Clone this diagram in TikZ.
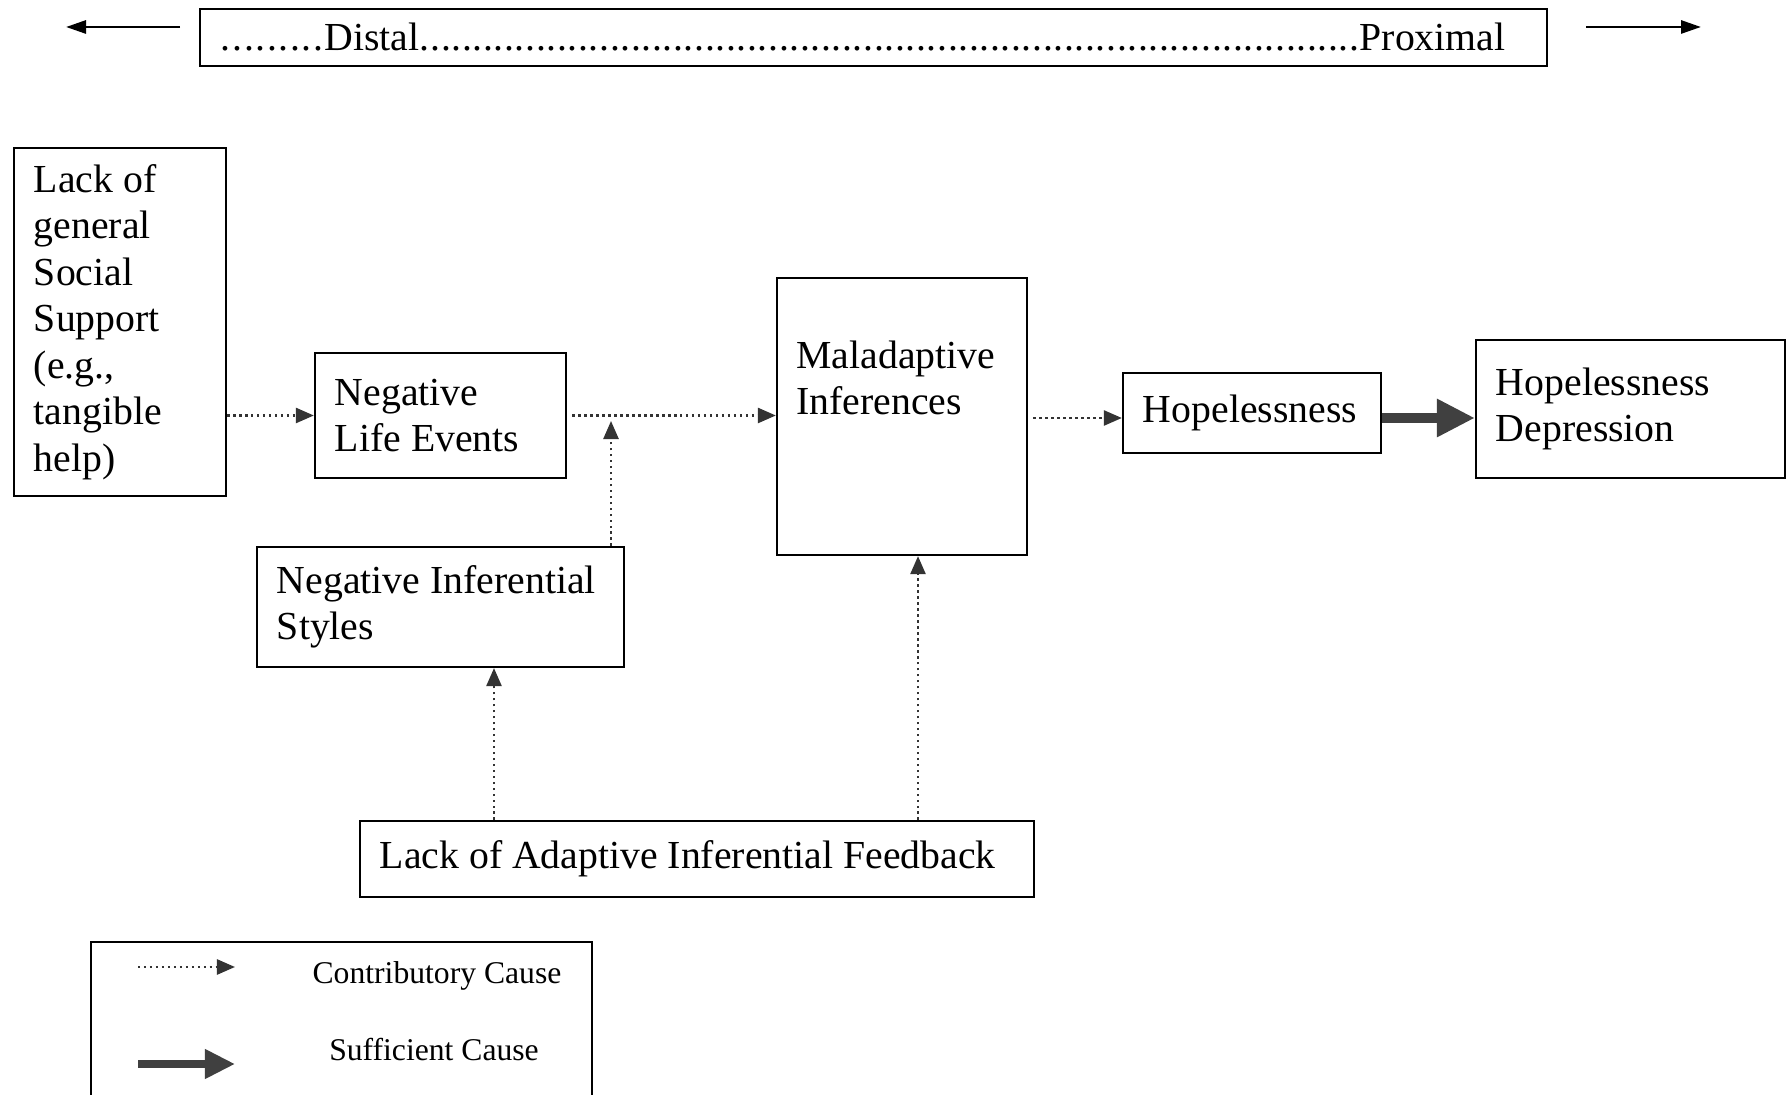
\documentclass[tikz,border=0pt]{standalone}
\usepackage{fontspec}
\setmainfont{Liberation Serif}
\usetikzlibrary{arrows.meta}
\newcommand{\dotrow}{\xleaders\hbox to 3pt{\hss.\hss}\hfill}

\begin{document}
\begin{tikzpicture}[x=0.01cm,y=-0.01cm,
   box/.style={draw,line width=0.6pt,rectangle,inner xsep=0.2cm,inner ysep=0pt,align=left,
               font=\fontsize{11.3}{13.2}\selectfont,
               execute at begin node={\spaceskip=0pt\xspaceskip=0pt}},
   contrib/.style={densely dotted,line width=0.7pt,draw=black!80,
               -{Triangle[length=0.18cm,width=0.15cm]}},
   suff/.style={line width=2.6pt,draw=black!75,-{Triangle[length=0.38cm,width=0.36cm]}},
   legsuff/.style={line width=2pt,draw=black!75,-{Triangle[length=0.3cm,width=0.28cm]}},
   axisarrow/.style={line width=0.8pt,-{Triangle[length=0.2cm,width=0.13cm]}},
   legtext/.style={font=\fontsize{9}{11}\selectfont}]
   \useasboundingbox (0,0) rectangle (1788,1095);

   \node[box,text width=13.07cm,minimum height=0.57cm] (scale) at (873.5,37.5)
      {\makebox[12.85cm]{\makebox[1.05cm]{\dotrow}Distal\dotrow Proximal}};
   \coordinate (dl0) at (180,27);
   \coordinate (dl1) at (66,27);
   \coordinate (pr0) at (1586,27);
   \coordinate (pr1) at (1701,27);
   \draw[axisarrow] (dl0) -- (dl1);
   \draw[axisarrow] (pr0) -- (pr1);

   \node[box,text width=1.72cm,minimum height=3.48cm] (support) at (120,322)
      {Lack of\\general\\Social\\Support\\(e.g.,\\tangible\\help)};
   \node[box,text width=2.11cm,minimum height=1.25cm] (nle) at (440.5,415.5)
      {Negative\\Life Events};
   \node[box,text width=3.27cm,minimum height=1.2cm] (nis) at (440.5,607)
      {Negative Inferential\\Styles};
   \node[box,minimum width=2.5cm,minimum height=2.77cm] (infer) at (902,416.5) {};
   \node[anchor=north west,inner sep=0,align=left,font=\fontsize{11.3}{13.2}\selectfont]
      (infertext) at ([xshift=0.2cm,yshift=-0.63cm]infer.north west) {Maladaptive\\Inferences};
   \node[box,text width=2.18cm,minimum height=0.8cm] (hope) at (1252,413) {Hopelessness};
   \node[box,text width=2.69cm,minimum height=1.38cm] (hdep) at (1630.5,409)
      {Hopelessness\\Depression};
   \node[box,text width=6.34cm,minimum height=0.76cm] (feedback) at (697,859)
      {Lack of Adaptive Inferential Feedback};

   % causal paths
   \coordinate (flow) at (0,418);
   \coordinate (junc) at (611,421);
   \coordinate (fb1) at (494,0);
   \coordinate (fb2) at (918,0);
   \draw[contrib] (support.east |- nle.west) -- (nle.west);
   \draw[contrib] ([xshift=1.5pt]nle.east) -- (infer.west |- nle.east);
   \draw[contrib] (junc |- nis.north) -- (junc);
   \draw[contrib] ([xshift=1.5pt]infer.east |- flow) -- (hope.west |- flow);
   \draw[suff] (hope.east |- flow) -- (hdep.west |- flow);
   \draw[contrib] (fb1 |- feedback.north) -- (fb1 |- nis.south);
   \draw[contrib] (fb2 |- feedback.north) -- (fb2 |- infer.south);

   % legend
   \node[draw,line width=0.6pt,minimum width=5.01cm,minimum height=1.78cm] (legend) at (341.5,1031) {};
   \coordinate (lc0) at (138,967);
   \coordinate (lc1) at (235,967);
   \coordinate (ls0) at (138,1064);
   \coordinate (ls1) at (235,1064);
   \draw[contrib] (lc0) -- (lc1);
   \draw[legsuff] (ls0) -- (ls1);
   \node[legtext] (ctext) at (437,976) {Contributory Cause};
   \node[legtext] (stext) at (434,1050) {Sufficient Cause};
\end{tikzpicture}
\end{document}
